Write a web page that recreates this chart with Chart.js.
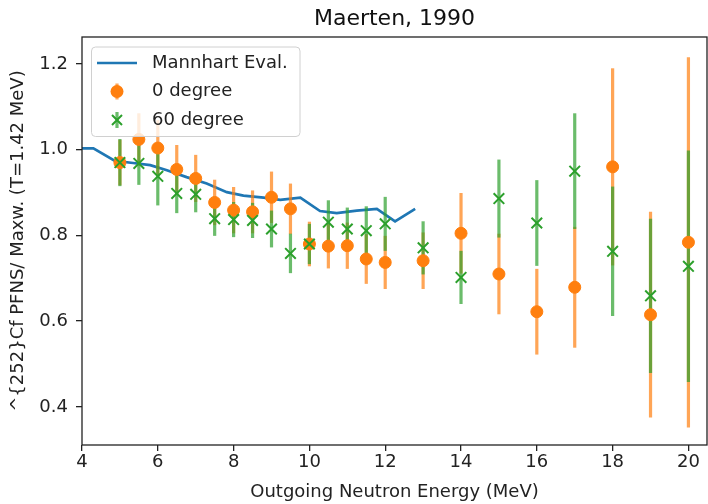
<!DOCTYPE html>
<html>
<head>
<meta charset="utf-8">
<script src="https://cdn.jsdelivr.net/npm/chart.js@4"></script>
<style>
  html, body { margin: 0; padding: 0; background: #fff; }
  #wrap { width: 708px; height: 504px; }
</style>
</head>
<body>
<div id="wrap"><canvas id="grafica" width="708" height="504"></canvas></div>
<script>
// energias de salida (MeV)
const energias = [5, 5.5, 6, 6.5, 7, 7.5, 8, 8.5, 9, 9.5, 10, 10.5, 11, 11.5, 12, 13, 14, 15, 16, 17, 18, 19, 20];

// 0 grados
const grado0 = [0.970, 1.024, 1.004, 0.954, 0.933, 0.877, 0.859, 0.855, 0.889, 0.862, 0.780, 0.775, 0.776, 0.745, 0.737, 0.741, 0.805, 0.710, 0.622, 0.679, 0.960, 0.615, 0.784];
const grado0Err = [0.053, 0.061, 0.065, 0.057, 0.055, 0.053, 0.054, 0.050, 0.060, 0.059, 0.052, 0.052, 0.054, 0.058, 0.062, 0.066, 0.094, 0.094, 0.100, 0.141, 0.230, 0.240, 0.432];

// 60 grados
const grado60 = [0.970, 0.968, 0.938, 0.898, 0.896, 0.839, 0.837, 0.835, 0.815, 0.758, 0.780, 0.831, 0.815, 0.811, 0.827, 0.771, 0.702, 0.886, 0.829, 0.950, 0.763, 0.659, 0.728];
const grado60Err = [0.055, 0.050, 0.068, 0.046, 0.042, 0.040, 0.041, 0.041, 0.043, 0.046, 0.047, 0.051, 0.050, 0.057, 0.063, 0.062, 0.062, 0.091, 0.100, 0.135, 0.151, 0.180, 0.270];

// evaluacion Mannhart
const mannhartE = [4.0, 4.3, 4.87, 5.35, 5.8, 6.24, 6.76, 7.29, 7.82, 8.26, 8.79, 9.23, 9.76, 10.28, 10.72, 11.25, 11.78, 12.26, 12.79];
const mannhartV = [1.003, 1.003, 0.974, 0.969, 0.964, 0.952, 0.936, 0.921, 0.901, 0.893, 0.888, 0.883, 0.888, 0.857, 0.852, 0.858, 0.862, 0.833, 0.862];

const xTicks = [4, 6, 8, 10, 12, 14, 16, 18, 20];
const yTicks = [0.4, 0.6, 0.8, 1.0, 1.2];

const naranja = '#ff7f0e';
const verde = '#2ca02c';
const azul = '#1f77b4';

Chart.defaults.font.family = '"DejaVu Sans", sans-serif';
Chart.defaults.color = '#222';

function puntos(xs, ys) {
    return xs.map((x, i) => ({ x: x, y: ys[i] }));
}

// barras de error, debajo de todos los marcadores
const barrasError = {
    id: 'barrasError',
    beforeDatasetDraw(chart, args) {
        if (args.index !== 1) return;
        const ctx = chart.ctx;
        const sx = chart.scales.x, sy = chart.scales.y;
        const series = [
            [grado0, grado0Err, 'rgba(255,127,14,0.7)'],
            [grado60, grado60Err, 'rgba(44,160,44,0.7)']
        ];
        ctx.save();
        ctx.lineWidth = 3.2;
        ctx.lineCap = 'butt';
        series.forEach(([vals, errs, color]) => {
            ctx.strokeStyle = color;
            energias.forEach((e, i) => {
                const px = sx.getPixelForValue(e);
                ctx.beginPath();
                ctx.moveTo(px, sy.getPixelForValue(vals[i] - errs[i]));
                ctx.lineTo(px, sy.getPixelForValue(vals[i] + errs[i]));
                ctx.stroke();
            });
        });
        ctx.restore();
    }
};

// marco y leyenda dentro del grafico
const marcoLeyenda = {
    id: 'marcoLeyenda',
    afterDraw(chart) {
        const ctx = chart.ctx;
        const a = chart.chartArea;
        ctx.save();
        ctx.strokeStyle = '#222';
        ctx.lineWidth = 1.3;
        ctx.strokeRect(a.left, a.top, a.right - a.left, a.bottom - a.top);

        // caja
        const bx = 91.5, by = 47, bw = 208.5, bh = 89.5;
        ctx.beginPath();
        ctx.roundRect(bx, by, bw, bh, 4);
        ctx.fillStyle = 'rgba(255,255,255,0.8)';
        ctx.fill();
        ctx.strokeStyle = '#d0d0d0';
        ctx.lineWidth = 1;
        ctx.stroke();

        const ds = chart.data.datasets;
        const filas = [ds[2].label, ds[1].label, ds[0].label];
        const ys = [63, 91.5, 120];
        const mx = 117;

        // linea
        ctx.strokeStyle = azul;
        ctx.lineWidth = 2.7;
        ctx.beginPath();
        ctx.moveTo(97, ys[0]);
        ctx.lineTo(137, ys[0]);
        ctx.stroke();

        // 0 grados
        ctx.strokeStyle = 'rgba(255,127,14,0.7)';
        ctx.lineWidth = 3.2;
        ctx.beginPath();
        ctx.moveTo(mx, ys[1] - 8);
        ctx.lineTo(mx, ys[1] + 8);
        ctx.stroke();
        ctx.fillStyle = naranja;
        ctx.beginPath();
        ctx.arc(mx, ys[1], 6.5, 0, Math.PI * 2);
        ctx.fill();

        // 60 grados
        ctx.strokeStyle = 'rgba(44,160,44,0.7)';
        ctx.beginPath();
        ctx.moveTo(mx, ys[2] - 8);
        ctx.lineTo(mx, ys[2] + 8);
        ctx.stroke();
        ctx.strokeStyle = verde;
        ctx.lineWidth = 2;
        const d = 5;
        ctx.beginPath();
        ctx.moveTo(mx - d, ys[2] - d);
        ctx.lineTo(mx + d, ys[2] + d);
        ctx.moveTo(mx - d, ys[2] + d);
        ctx.lineTo(mx + d, ys[2] - d);
        ctx.stroke();

        ctx.fillStyle = '#222';
        ctx.font = '18px "DejaVu Sans"';
        ctx.textBaseline = 'middle';
        ctx.textAlign = 'left';
        filas.forEach((t, i) => ctx.fillText(t, 152, ys[i]));
        ctx.restore();
    }
};

const ctx = document.getElementById('grafica').getContext('2d');
const grafica = new Chart(ctx, {
    type: 'scatter',
    data: {
        datasets: [
            {
                label: '60 degree',
                data: puntos(energias, grado60),
                order: 1,
                pointStyle: 'crossRot',
                pointRadius: 7.5,
                pointBorderWidth: 2,
                borderColor: verde,
                backgroundColor: verde,
                showLine: false
            },
            {
                label: '0 degree',
                data: puntos(energias, grado0),
                order: 2,
                pointStyle: 'circle',
                pointRadius: 6,
                pointBorderWidth: 1,
                borderColor: naranja,
                backgroundColor: naranja,
                showLine: false
            },
            {
                label: 'Mannhart Eval.',
                data: puntos(mannhartE, mannhartV),
                order: 3,
                showLine: true,
                borderColor: azul,
                borderWidth: 2.7,
                pointRadius: 0,
                tension: 0
            }
        ]
    },
    options: {
        responsive: false,
        animation: false,
        devicePixelRatio: 1,
        layout: { autoPadding: false, padding: { left: 0, right: 1, top: 0, bottom: 0 } },
        plugins: {
            legend: { display: false },
            tooltip: { enabled: false },
            title: {
                display: true,
                text: 'Maerten, 1990',
                fullSize: false,
                color: '#111',
                font: { size: 22, weight: 'normal' },
                padding: { top: 6, bottom: 4.6 }
            }
        },
        scales: {
            x: {
                type: 'linear',
                min: 4,
                max: 20.49,
                afterBuildTicks: (s) => { s.ticks = xTicks.map(v => ({ value: v })); },
                afterFit: (s) => { s.height = 59; },
                border: { display: false },
                grid: { drawOnChartArea: false, drawTicks: true, tickLength: 6, tickColor: '#222', lineWidth: 1.3 },
                ticks: { font: { size: 18 }, padding: 1, color: '#222', callback: (v) => v },
                title: {
                    display: true,
                    text: 'Outgoing Neutron Energy (MeV)',
                    font: { size: 18 },
                    color: '#222',
                    padding: { top: 0, bottom: 1 }
                }
            },
            y: {
                type: 'linear',
                min: 0.311,
                max: 1.263,
                afterBuildTicks: (s) => { s.ticks = yTicks.map(v => ({ value: v })); },
                afterFit: (s) => { s.width = 82; },
                border: { display: false },
                grid: { drawOnChartArea: false, drawTicks: true, tickLength: 6, tickColor: '#222', lineWidth: 1.3 },
                ticks: { font: { size: 18 }, padding: 8, color: '#222', callback: (v) => v.toFixed(1) },
                title: {
                    display: true,
                    text: '^{252}Cf PFNS/ Maxw. (T=1.42 MeV)',
                    font: { size: 18 },
                    color: '#222',
                    padding: { top: 8, bottom: 0 }
                }
            }
        }
    },
    plugins: [barrasError, marcoLeyenda]
});
</script>
</body>
</html>
